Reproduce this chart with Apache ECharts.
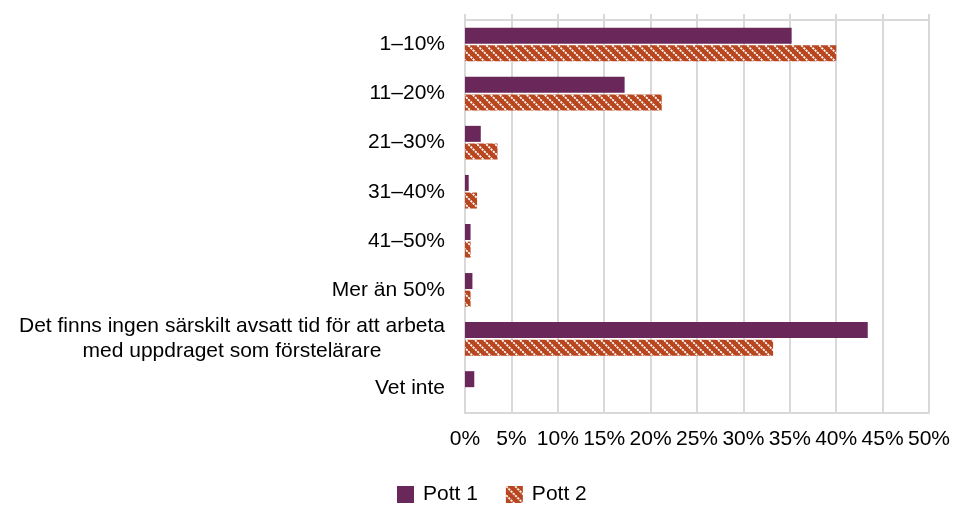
<!DOCTYPE html>
<html>
<head>
<meta charset="utf-8">
<script src="https://cdn.jsdelivr.net/npm/echarts@6/dist/echarts.min.js"></script>
<style>
html,body{margin:0;padding:0;background:#fff;}
#chart{width:953px;height:506px;}
</style>
</head>
<body>
<div id="chart"></div>
<script>
var categories = ['1–10%', '11–20%', '21–30%', '31–40%', '41–50%', 'Mer än 50%',
  'Det finns ingen särskilt avsatt tid för att arbeta\nmed uppdraget som förstelärare', 'Vet inte'];
var seriesNames = ['Pott 1', 'Pott 2'];
var pott1 = [35.2, 17.2, 1.7, 0.4, 0.6, 0.8, 43.4, 1.0];
var pott2 = [40.0, 21.2, 3.5, 1.3, 0.6, 0.6, 33.2, 0];
var xTicks = [0, 50, 5];

// hatch pattern for Pott 2
function makePattern() {
  var s = 9;
  var c = document.createElement('canvas');
  c.width = s; c.height = s;
  var g = c.getContext('2d');
  g.fillStyle = '#b8461f';
  g.fillRect(0, 0, s, s);
  g.strokeStyle = '#ffffff';
  g.lineWidth = 1.8;
  g.setLineDash([2.2, 1.0]);
  g.beginPath();
  g.moveTo(-2, -2); g.lineTo(s + 2, s + 2);
  g.moveTo(-2 - s, -2); g.lineTo(2, s + 2);
  g.moveTo(s - 2, -2); g.lineTo(2 * s + 2, s + 2);
  g.stroke();
  return c;
}
var pattern = {image: makePattern(), repeat: 'repeat'};

var FONT = "'Liberation Sans', Arial, sans-serif";
var FS = 21;
var chart = echarts.init(document.getElementById('chart'));
var gridGrey = '#d9d9d9';

chart.setOption({
  animation: false,
  textStyle: {fontFamily: FONT},
  grid: {left: 465, right: 24, top: 20, bottom: 93.5, containLabel: false},
  legend: {
    left: 397, top: 484, padding: 0,
    itemWidth: 17, itemHeight: 17, itemGap: 28,
    icon: 'rect',
    textStyle: {fontSize: FS, color: '#000', fontFamily: FONT, padding: [3, 0, 0, 4]},
    data: seriesNames
  },
  xAxis: [{
    type: 'value', position: 'bottom',
    min: xTicks[0], max: xTicks[1], interval: xTicks[2],
    axisLine: {show: true, lineStyle: {color: gridGrey, width: 2}},
    axisTick: {show: false},
    splitLine: {show: true, lineStyle: {color: gridGrey, width: 2}},
    axisLabel: {formatter: '{value}%', fontSize: FS, color: '#000', margin: 16, fontFamily: FONT}
  }, {
    type: 'value', position: 'top',
    min: xTicks[0], max: xTicks[1], interval: xTicks[2],
    axisLine: {show: true, lineStyle: {color: gridGrey, width: 2}},
    axisTick: {show: true, length: 6, lineStyle: {color: gridGrey, width: 2}},
    splitLine: {show: false},
    axisLabel: {show: false}
  }],
  yAxis: {
    type: 'category', inverse: true, data: categories,
    axisLine: {show: true, lineStyle: {color: gridGrey, width: 2}},
    axisTick: {show: false},
    axisLabel: {
      interval: 0, fontSize: FS, color: '#000', margin: 20, fontFamily: FONT, lineHeight: 25,
      formatter: function (v) {
        if (v.indexOf('\n') < 0) return v;
        return v.split('\n').map(function (l) { return '{c|' + l + '}'; }).join('\n');
      },
      rich: {c: {align: 'center', fontSize: FS, lineHeight: 25, color: '#000', fontFamily: FONT}}
    }
  },
  series: [{
    name: seriesNames[0], type: 'bar', data: pott1, xAxisIndex: 0,
    barWidth: 16, barGap: '10%',
    itemStyle: {color: '#6a285a'}
  }, {
    name: seriesNames[1], type: 'bar', data: pott2, xAxisIndex: 0,
    barWidth: 16, barGap: '10%',
    itemStyle: {color: pattern}
  }]
});
</script>
</body>
</html>
